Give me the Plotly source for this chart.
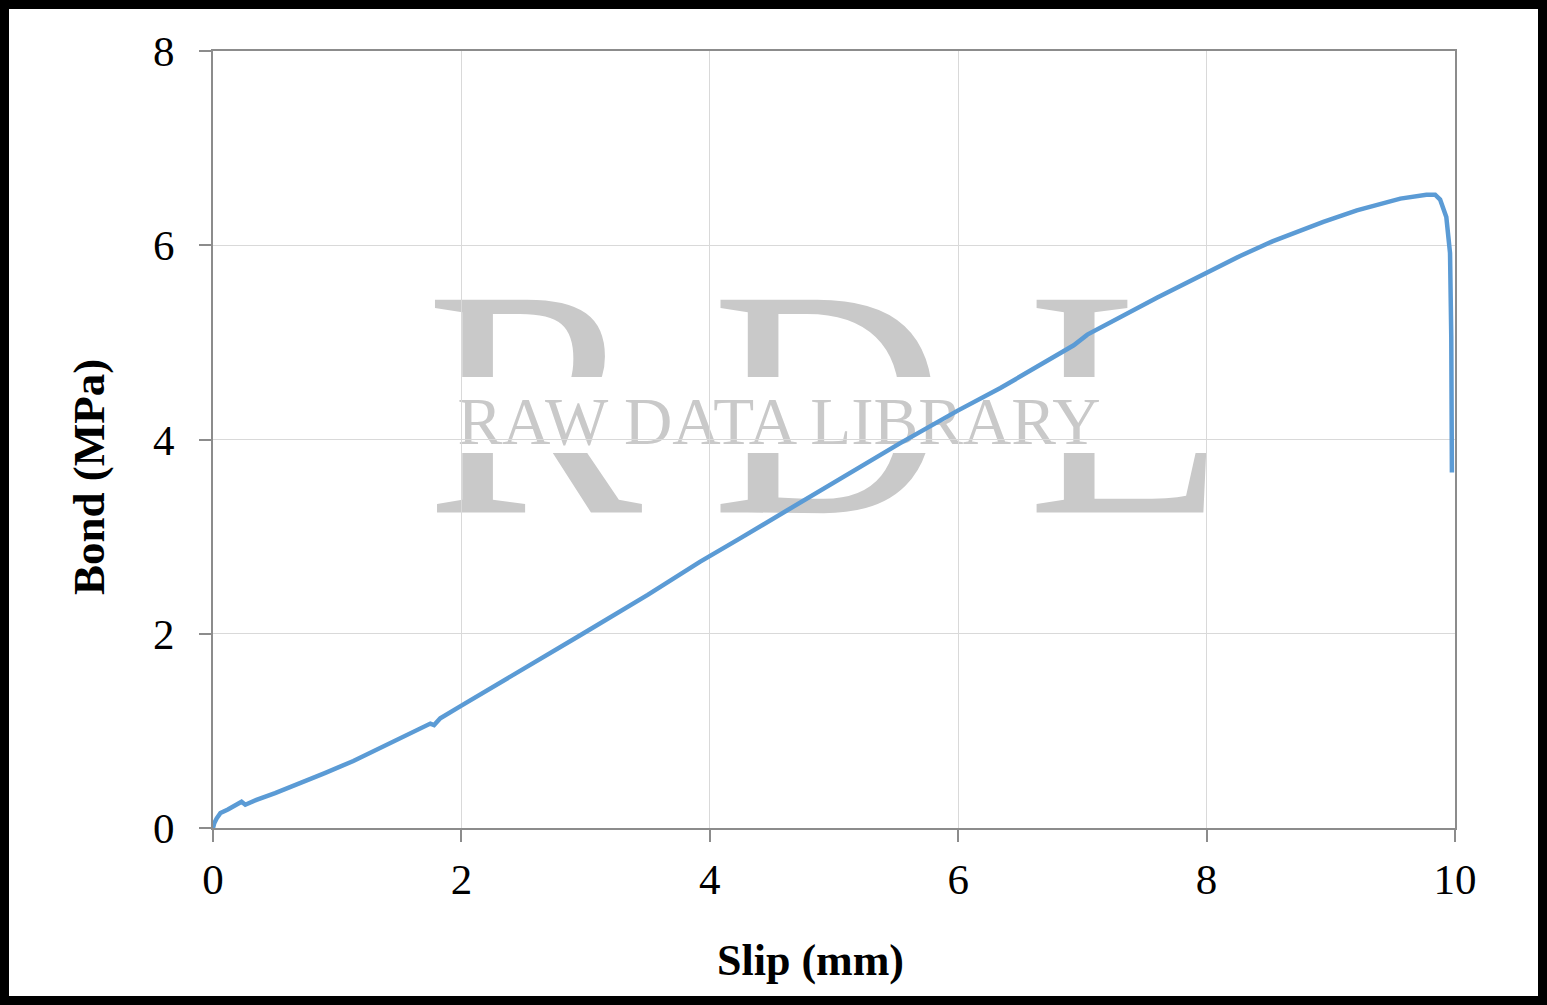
import plotly.graph_objects as go

# Data
slip_mm = [0, 0.01, 0.03, 0.06, 0.12, 0.18, 0.23, 0.26, 0.35, 0.5, 0.7, 0.9, 1.13, 1.4, 1.6,
           1.75, 1.78, 1.83, 2.0, 2.2, 2.5, 2.95, 3.5, 3.92, 4.24, 4.73, 5.0, 5.53, 6.0, 6.34,
           6.93, 7.04, 7.6, 8.0, 8.27, 8.53, 8.75, 8.94, 9.21, 9.4, 9.56, 9.77, 9.84,
           9.88, 9.93, 9.96, 9.97, 9.975]
bond_mpa = [0, 0.05, 0.10, 0.155, 0.19, 0.23, 0.27, 0.24, 0.29, 0.36, 0.46, 0.565, 0.69, 0.86, 0.98,
            1.075, 1.06, 1.13, 1.26, 1.41, 1.63, 1.98, 2.40, 2.74, 2.98, 3.35, 3.56, 3.96, 4.30, 4.53,
            4.97, 5.08, 5.46, 5.72, 5.89, 6.04, 6.15, 6.24, 6.36, 6.43, 6.48, 6.52, 6.52,
            6.47, 6.29, 5.92, 5.06, 3.66]

x_ticks = [0, 2, 4, 6, 8, 10]
y_ticks = [0, 2, 4, 6, 8]

W, H = 1547, 1005
ML, MR, MT, MB = 213, 92, 51, 177
PW, PH = W - ML - MR, H - MT - MB

SERIF = "Liberation Serif, Times New Roman, serif"
WM_COLOR = "#c9c9c9"


def px_x(p):
    return (p - ML) / PW


def px_y(p):
    return (MT + PH - p) / PH


fig = go.Figure()

fig.add_trace(go.Scatter(
    x=slip_mm, y=bond_mpa, mode="lines",
    line=dict(color="#5b9bd5", width=4.5), showlegend=False))

axis_common = dict(
    showline=True, linecolor="#8c8c8c", linewidth=2, mirror=True,
    showgrid=True, gridcolor="#d9d9d9", gridwidth=1,
    ticks="outside", ticklen=12, tickwidth=2, tickcolor="#8c8c8c",
    tickfont=dict(family=SERIF, size=43, color="black"),
    zeroline=False,
)

fig.update_xaxes(range=[0, 10], tickvals=x_ticks, ticklabelstandoff=0, **axis_common)
fig.update_yaxes(range=[0, 8], tickvals=y_ticks, ticklabelstandoff=16, **axis_common)

# Axis titles (placed as in the reference, slightly off-centre)
fig.add_annotation(text="<b>Slip (mm)</b>", xref="paper", yref="paper",
                   x=px_x(810), y=px_y(960), xanchor="center", yanchor="middle",
                   showarrow=False, font=dict(family=SERIF, size=44, color="black"))
fig.add_annotation(text="<b>Bond (MPa)</b>", xref="paper", yref="paper",
                   x=px_x(89), y=px_y(477), xanchor="center", yanchor="middle",
                   textangle=-90, showarrow=False,
                   font=dict(family=SERIF, size=45, color="black"))

# Watermark: big letters, a white band cut through them, and the small text,
# all drawn beneath the gridlines and the data line
for letter, (a, b) in zip(["R", "D", "L"], [(428, 640), (722, 935), (1035, 1218)]):
    fig.add_shape(type="rect", xref="paper", yref="paper", layer="below",
                  x0=px_x(a), x1=px_x(b), y0=px_y(475), y1=px_y(260),
                  line=dict(width=0), fillcolor="rgba(0,0,0,0)",
                  label=dict(text=letter, textposition="middle center",
                             font=dict(family=SERIF, size=325, color=WM_COLOR)))
fig.add_shape(type="rect", xref="paper", yref="paper", layer="below",
              x0=px_x(415), x1=px_x(1235), y0=px_y(453), y1=px_y(377),
              line=dict(width=0), fillcolor="white")
fig.add_shape(type="rect", xref="paper", yref="paper", layer="below",
              x0=px_x(460), x1=px_x(1098), y0=px_y(437), y1=px_y(390),
              line=dict(width=0), fillcolor="rgba(0,0,0,0)",
              label=dict(text="RAW DATA LIBRARY", textposition="middle center",
                         font=dict(family=SERIF, size=67, color=WM_COLOR)))

# Outer black frame around the whole picture
bw = 9
fig.add_shape(type="rect", xref="paper", yref="paper", layer="above",
              x0=px_x(bw / 2), x1=px_x(W - bw / 2),
              y0=px_y(H - bw / 2), y1=px_y(bw / 2),
              line=dict(color="black", width=bw), fillcolor="rgba(0,0,0,0)")

fig.update_layout(
    width=W, height=H,
    margin=dict(l=ML, r=MR, t=MT, b=MB, autoexpand=False),
    plot_bgcolor="white", paper_bgcolor="white",
    showlegend=False,
)

fig.write_html("out.html", config={"displayModeBar": False},
               post_script="document.body.style.margin='0';")
